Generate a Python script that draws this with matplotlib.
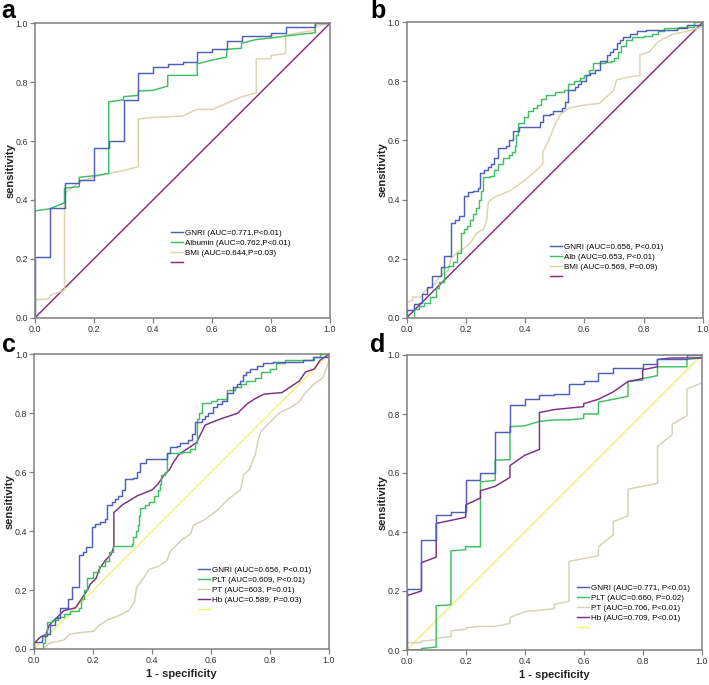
import matplotlib
matplotlib.use("Agg")
import matplotlib.pyplot as plt
from matplotlib.lines import Line2D

plt.rcParams['font.family'] = ['Liberation Sans', 'DejaVu Sans']

# ---------------- data ----------------
ticks = [0.0, 0.2, 0.4, 0.6, 0.8, 1.0]
tick_labels = ["0.0", "0.2", "0.4", "0.6", "0.8", "1.0"]
diag_x = [0, 1]
diag_y = [0, 1]

# GNRI (AUC 0.771) - panels a and d
gnri771_x = [0, 0, 0.05, 0.05, 0.10, 0.10, 0.15, 0.15, 0.20, 0.20, 0.25, 0.25, 0.30, 0.30,
             0.35, 0.35, 0.40, 0.40, 0.45, 0.45, 0.50, 0.50, 0.55, 0.55, 0.60, 0.60, 0.65, 0.65,
             0.70, 0.70, 0.80, 0.80, 0.85, 0.85, 0.95, 0.95, 1.0]
gnri771_y = [0, 0.207, 0.207, 0.373, 0.373, 0.459, 0.459, 0.467, 0.467, 0.575, 0.575, 0.600,
             0.600, 0.740, 0.740, 0.832, 0.832, 0.850, 0.850, 0.863, 0.863, 0.868, 0.868, 0.902,
             0.902, 0.912, 0.912, 0.940, 0.940, 0.957, 0.957, 0.968, 0.968, 0.988, 0.988, 1.0, 1.0]

# Panel a
a_alb_x = [0, 0, 0.05, 0.10, 0.10, 0.15, 0.15, 0.20, 0.25, 0.25, 0.30, 0.30, 0.35, 0.35, 0.40,
           0.45, 0.45, 0.55, 0.55, 0.60, 0.65, 0.65, 0.70, 0.70, 0.75, 0.80, 0.85, 0.95, 0.95, 1.0]
a_alb_y = [0, 0.363, 0.370, 0.390, 0.440, 0.445, 0.477, 0.482, 0.490, 0.733, 0.740, 0.751,
           0.755, 0.770, 0.772, 0.787, 0.823, 0.823, 0.862, 0.875, 0.885, 0.912, 0.915, 0.932,
           0.945, 0.950, 0.957, 0.968, 1.0, 1.0]
a_bmi_x = [0, 0, 0.05, 0.05, 0.10, 0.10, 0.15, 0.20, 0.25, 0.30, 0.35, 0.35, 0.40, 0.50, 0.55,
           0.60, 0.70, 0.75, 0.75, 0.80, 0.80, 0.85, 0.85, 0.95, 0.95, 1.0]
a_bmi_y = [0, 0.060, 0.065, 0.075, 0.094, 0.422, 0.460, 0.478, 0.490, 0.500, 0.513, 0.675,
           0.680, 0.685, 0.708, 0.707, 0.750, 0.764, 0.879, 0.880, 0.890, 0.898, 0.960, 0.977,
           0.990, 1.0]

# GNRI (AUC 0.656) - panels b and c (step points, steps-post)
gnri656_x = [0, 0, 0.025, 0.042, 0.053, 0.07, 0.087, 0.115, 0.127, 0.15, 0.164, 0.175, 0.195,
             0.206, 0.223, 0.24, 0.248, 0.262, 0.273, 0.285, 0.296, 0.308, 0.336, 0.347, 0.359,
             0.38, 0.449, 0.46, 0.483, 0.495, 0.523, 0.534, 0.545, 0.568, 0.58, 0.59, 0.607,
             0.62, 0.636, 0.653, 0.675, 0.687, 0.698, 0.709, 0.72, 0.732, 0.755, 0.777, 0.81,
             0.913, 0.947, 1.0]
gnri656_y = [0, 0.025, 0.045, 0.05, 0.08, 0.104, 0.14, 0.17, 0.209, 0.319, 0.33, 0.345, 0.413,
             0.425, 0.43, 0.44, 0.489, 0.5, 0.51, 0.52, 0.54, 0.576, 0.58, 0.6, 0.632, 0.645,
             0.664, 0.685, 0.69, 0.70, 0.71, 0.73, 0.771, 0.78, 0.79, 0.80, 0.82, 0.83, 0.84,
             0.87, 0.89, 0.90, 0.91, 0.93, 0.94, 0.95, 0.96, 0.97, 0.975, 0.98, 0.99, 1.0]

# Panel b
b_alb_x = [0, 0.025, 0.04, 0.06, 0.08, 0.10, 0.11, 0.126, 0.14, 0.155, 0.17, 0.184, 0.195,
           0.205, 0.215, 0.225, 0.235, 0.245, 0.252, 0.259, 0.28, 0.295, 0.31, 0.325, 0.345,
           0.355, 0.365, 0.37, 0.377, 0.395, 0.41, 0.425, 0.44, 0.455, 0.47, 0.50, 0.53, 0.545,
           0.565, 0.585, 0.60, 0.615, 0.63, 0.67, 0.69, 0.70, 0.715, 0.725, 0.74, 0.76, 0.80,
           0.83, 0.85, 0.87, 0.92, 0.97, 1.0]
b_alb_y = [0, 0.03, 0.04, 0.05, 0.07, 0.10, 0.12, 0.173, 0.175, 0.19, 0.22, 0.286, 0.30, 0.31,
           0.33, 0.35, 0.37, 0.40, 0.43, 0.475, 0.48, 0.50, 0.52, 0.54, 0.55, 0.56, 0.58, 0.62,
           0.658, 0.68, 0.70, 0.71, 0.72, 0.74, 0.754, 0.765, 0.77, 0.79, 0.80, 0.81, 0.82, 0.84,
           0.863, 0.865, 0.87, 0.88, 0.90, 0.92, 0.94, 0.95, 0.955, 0.96, 0.97, 0.98, 0.985,
           1.0, 1.0]
b_bmi_x = [0, 0, 0.02, 0.02, 0.05, 0.06, 0.08, 0.10, 0.11, 0.14, 0.15, 0.17, 0.20, 0.22, 0.236,
           0.26, 0.27, 0.276, 0.30, 0.35, 0.40, 0.45, 0.46, 0.46, 0.48, 0.50, 0.52, 0.55, 0.60,
           0.65, 0.70, 0.709, 0.75, 0.788, 0.788, 0.82, 0.85, 0.88, 0.90, 0.95, 1.0]
b_bmi_y = [0, 0.05, 0.06, 0.07, 0.07, 0.09, 0.10, 0.12, 0.14, 0.16, 0.20, 0.22, 0.24, 0.26,
           0.286, 0.30, 0.33, 0.393, 0.41, 0.43, 0.466, 0.51, 0.52, 0.562, 0.60, 0.652, 0.69,
           0.71, 0.72, 0.725, 0.77, 0.805, 0.815, 0.82, 0.89, 0.90, 0.935, 0.95, 0.96, 0.97, 0.985]

# Panel c
c_plt_x = [0, 0.03, 0.035, 0.042, 0.06, 0.08, 0.10, 0.12, 0.15, 0.16, 0.17, 0.18, 0.20, 0.22,
           0.24, 0.255, 0.268, 0.33, 0.335, 0.345, 0.352, 0.355, 0.359, 0.375, 0.39, 0.405, 0.42,
           0.425, 0.43, 0.445, 0.449, 0.50, 0.53, 0.545, 0.551, 0.56, 0.57, 0.60, 0.62, 0.655,
           0.68, 0.70, 0.72, 0.75, 0.77, 0.80, 0.82, 0.85, 0.95, 0.97, 1.0]
c_plt_y = [0, 0.02, 0.05, 0.093, 0.10, 0.11, 0.12, 0.13, 0.14, 0.17, 0.20, 0.24, 0.26, 0.28,
           0.30, 0.33, 0.35, 0.355, 0.38, 0.40, 0.42, 0.45, 0.477, 0.49, 0.50, 0.52, 0.54, 0.56,
           0.59, 0.60, 0.664, 0.67, 0.68, 0.70, 0.779, 0.80, 0.834, 0.84, 0.85, 0.88, 0.89, 0.90,
           0.91, 0.92, 0.94, 0.95, 0.97, 0.98, 0.99, 1.0, 1.0]
c_pt_x = [0, 0.03, 0.05, 0.10, 0.12, 0.15, 0.20, 0.22, 0.25, 0.28, 0.32, 0.34, 0.347, 0.37,
          0.39, 0.42, 0.45, 0.46, 0.50, 0.53, 0.54, 0.58, 0.62, 0.66, 0.70, 0.71, 0.73, 0.75,
          0.76, 0.77, 0.80, 0.83, 0.87, 0.90, 0.92, 0.95, 0.98, 0.99, 1.0]
c_pt_y = [0, 0, 0.02, 0.03, 0.05, 0.055, 0.06, 0.08, 0.10, 0.11, 0.13, 0.16, 0.208, 0.24, 0.27,
          0.28, 0.30, 0.33, 0.37, 0.39, 0.42, 0.44, 0.47, 0.51, 0.54, 0.59, 0.61, 0.66, 0.71,
          0.74, 0.77, 0.80, 0.82, 0.84, 0.87, 0.90, 0.92, 0.95, 0.98]
c_hb_x = [0, 0, 0.01, 0.02, 0.04, 0.05, 0.07, 0.09, 0.10, 0.14, 0.16, 0.18, 0.19, 0.21, 0.22,
          0.24, 0.26, 0.27, 0.27, 0.30, 0.35, 0.40, 0.42, 0.44, 0.46, 0.47, 0.49, 0.52, 0.55,
          0.57, 0.58, 0.63, 0.66, 0.69, 0.72, 0.75, 0.78, 0.84, 0.87, 0.90, 0.92, 0.95, 0.97, 1.0]
c_hb_y = [0, 0.02, 0.03, 0.04, 0.05, 0.08, 0.10, 0.12, 0.13, 0.14, 0.17, 0.20, 0.22, 0.24, 0.27,
          0.30, 0.32, 0.347, 0.463, 0.49, 0.52, 0.54, 0.56, 0.59, 0.61, 0.63, 0.66, 0.68, 0.70,
          0.74, 0.76, 0.78, 0.79, 0.80, 0.83, 0.85, 0.865, 0.87, 0.89, 0.91, 0.94, 0.95, 0.98, 1.0]

# Panel d
d_plt_x = [0, 0.05, 0.05, 0.10, 0.10, 0.15, 0.15, 0.20, 0.20, 0.25, 0.25, 0.30, 0.30, 0.35,
           0.35, 0.40, 0.45, 0.50, 0.55, 0.60, 0.60, 0.65, 0.65, 0.70, 0.75, 0.75, 0.80, 0.80,
           0.85, 0.85, 0.95, 0.95, 1.0]
d_plt_y = [0, 0, 0.005, 0.01, 0.15, 0.153, 0.336, 0.34, 0.35, 0.35, 0.57, 0.575, 0.644, 0.645,
           0.757, 0.76, 0.775, 0.78, 0.78, 0.785, 0.80, 0.80, 0.84, 0.85, 0.86, 0.91, 0.915, 0.92,
           0.93, 0.96, 0.96, 0.985, 0.99]
d_pt_x = [0, 0, 0.05, 0.05, 0.10, 0.10, 0.15, 0.15, 0.20, 0.20, 0.25, 0.30, 0.35, 0.35, 0.40,
          0.45, 0.50, 0.50, 0.55, 0.55, 0.60, 0.65, 0.65, 0.70, 0.70, 0.75, 0.75, 0.85, 0.85,
          0.90, 0.90, 0.95, 0.95, 1.0]
d_pt_y = [0, 0.025, 0.025, 0.03, 0.035, 0.04, 0.045, 0.065, 0.07, 0.075, 0.08, 0.08, 0.09, 0.11,
          0.13, 0.135, 0.14, 0.155, 0.165, 0.30, 0.31, 0.32, 0.35, 0.39, 0.435, 0.455, 0.545,
          0.565, 0.69, 0.73, 0.765, 0.795, 0.885, 0.905]
d_hb_x = [0, 0, 0.05, 0.05, 0.10, 0.10, 0.20, 0.20, 0.25, 0.25, 0.30, 0.35, 0.35, 0.40, 0.45,
          0.45, 0.50, 0.60, 0.60, 0.65, 0.70, 0.75, 0.80, 0.80, 0.85, 0.85, 0.90, 1.0]
d_hb_y = [0, 0.184, 0.20, 0.296, 0.315, 0.429, 0.45, 0.492, 0.515, 0.54, 0.555, 0.585, 0.625,
          0.66, 0.68, 0.805, 0.815, 0.825, 0.835, 0.85, 0.875, 0.91, 0.92, 0.95, 0.96, 0.985,
          0.99, 0.99]

labels_a = ["GNRI (AUC=0.771,P<0.01)", "Albumin (AUC=0.762,P<0.01)", "BMI (AUC=0.644,P=0.03)", " "]
labels_b = ["GNRI (AUC=0.656, P<0.01)", "Alb (AUC=0.653, P<0.01)", "BMI (AUC=0.569, P=0.09)", " "]
labels_c = ["GNRI (AUC=0.656, P<0.01)", "PLT (AUC=0.609, P<0.01)", "PT (AUC=603, P=0.01)",
            "Hb (AUC=0.589, P=0.03)", " "]
labels_d = ["GNRI (AUC=0.771, P<0.01)", "PLT (AUC=0.660, P=0.02)", "PT (AUC=0.706, P<0.01)",
            "Hb (AUC=0.709, P<0.01)", " "]

# ---------------- style ----------------
BLUE = '#4f5fb8'
GREEN = '#3fbf62'
TAN = '#ddd3ae'
TAN2 = '#d6d1b5'
PURPLE = '#8a2b79'
HB = '#7b2f82'
YELLOW = '#f2f27a'
FRAME = '#808080'
LW = 1.05

fig = plt.figure(figsize=(7.09, 6.85), dpi=100)
W, H = 709, 685

def make_ax(l, t, r, b):
    return fig.add_axes([l / W, 1 - b / H, (r - l) / W, (b - t) / H])

ax_a = make_ax(35, 23.3, 330, 317.7)
ax_b = make_ax(406.7, 22.3, 702.7, 317.7)
ax_c = make_ax(34.3, 354.3, 329, 649)
ax_d = make_ax(406.7, 355, 701.7, 650)

def style(ax, xlabel=False):
    ax.set_xlim(0, 1)
    ax.set_ylim(0, 1)
    ax.set_xticks(ticks)
    ax.set_yticks(ticks)
    ax.set_xticklabels(tick_labels)
    ax.set_yticklabels(tick_labels)
    for s in ax.spines.values():
        s.set_color(FRAME)
        s.set_linewidth(1.1)
    ax.tick_params(direction='out', length=3.5, width=0.9, color=FRAME,
                   labelsize=6.4, labelcolor='#333333', pad=1.5)
    ax.set_ylabel('sensitivity', fontsize=8, fontweight='bold', color='#222222')
    ax.yaxis.set_label_coords(-0.066, 0.5)
    if xlabel:
        ax.set_xlabel('1 - specificity', fontsize=8, fontweight='bold', color='#222222')
        ax.xaxis.set_label_coords(0.5, -0.068)

def legend(ax, handles, labels, x, y):
    ax.legend(handles, labels, loc='upper left', bbox_to_anchor=(x, y), frameon=False,
              fontsize=5.8, handlelength=1.5, handletextpad=0.3, labelspacing=0.28,
              borderpad=0, borderaxespad=0)

# Panel a
h1, = ax_a.plot(diag_x, diag_y, color=PURPLE, lw=LW)
h2, = ax_a.plot(a_bmi_x, a_bmi_y, color=TAN, lw=LW)
h3, = ax_a.plot(a_alb_x, a_alb_y, color=GREEN, lw=LW)
h4, = ax_a.plot(gnri771_x, gnri771_y, color=BLUE, lw=LW)
style(ax_a)
legend(ax_a, [h4, h3, h2, h1], labels_a, 0.46, 0.30)

# Panel b
h1, = ax_b.plot(diag_x, diag_y, color=PURPLE, lw=LW)
h2, = ax_b.plot(b_bmi_x, b_bmi_y, color=TAN, lw=LW)
h3, = ax_b.plot(b_alb_x, b_alb_y, color=GREEN, lw=LW, drawstyle='steps-post')
h4, = ax_b.plot(gnri656_x, gnri656_y, color=BLUE, lw=LW, drawstyle='steps-post')
style(ax_b)
legend(ax_b, [Line2D([], [], color=BLUE, lw=LW), Line2D([], [], color=GREEN, lw=LW),
              Line2D([], [], color=TAN, lw=LW), h1], labels_b, 0.484, 0.252)

# Panel c
h1, = ax_c.plot(diag_x, diag_y, color=YELLOW, lw=LW)
h2, = ax_c.plot(c_pt_x, c_pt_y, color=TAN2, lw=LW)
h3, = ax_c.plot(c_hb_x, c_hb_y, color=HB, lw=LW)
h4, = ax_c.plot(c_plt_x, c_plt_y, color=GREEN, lw=LW, drawstyle='steps-post')
h5, = ax_c.plot(gnri656_x, gnri656_y, color=BLUE, lw=LW, drawstyle='steps-post')
style(ax_c, xlabel=True)
legend(ax_c, [Line2D([], [], color=BLUE, lw=LW), Line2D([], [], color=GREEN, lw=LW),
              h2, h3, h1], labels_c, 0.555, 0.281)

# Panel d
h1, = ax_d.plot(diag_x, diag_y, color=YELLOW, lw=LW)
h2, = ax_d.plot(d_pt_x, d_pt_y, color=TAN2, lw=LW)
h3, = ax_d.plot(d_plt_x, d_plt_y, color=GREEN, lw=LW)
h4, = ax_d.plot(d_hb_x, d_hb_y, color=HB, lw=LW)
h5, = ax_d.plot(gnri771_x, gnri771_y, color=BLUE, lw=LW)
style(ax_d, xlabel=True)
legend(ax_d, [h5, h3, h2, h4, h1], labels_d, 0.577, 0.223)

# panel letters
for txt, x, y in [('a', 1, 18), ('b', 370, 18), ('c', 2, 352), ('d', 370, 352)]:
    fig.text(x / W, 1 - y / H, txt, fontsize=18, fontweight='bold', va='baseline', ha='left')

fig.savefig('out.png', dpi=100)
